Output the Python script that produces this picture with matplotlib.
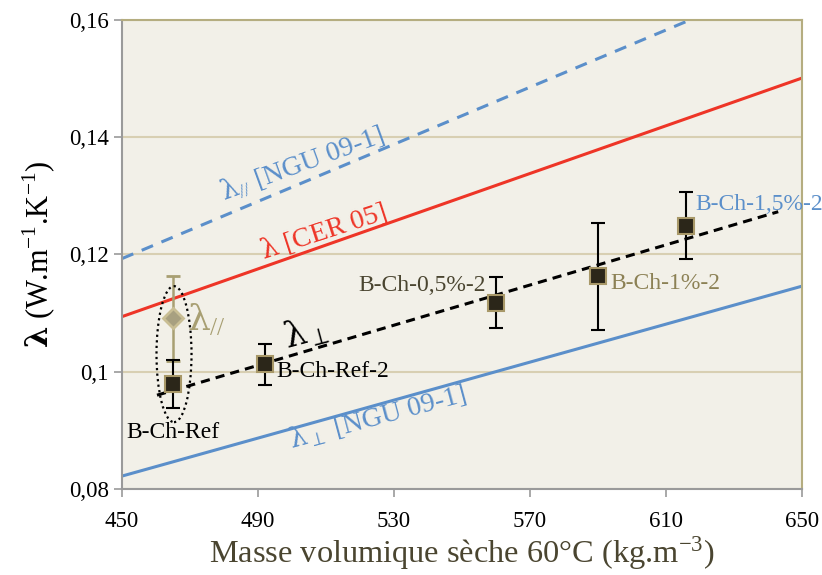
import numpy as np
import matplotlib
matplotlib.use("Agg")
from matplotlib import pyplot as plt
from matplotlib.patches import Ellipse

plt.rcParams['font.family'] = ['Liberation Serif', 'DejaVu Serif']
plt.rcParams['mathtext.fontset'] = 'custom'
plt.rcParams['mathtext.rm'] = 'Liberation Serif'
plt.rcParams['mathtext.it'] = 'DejaVu Serif'
plt.rcParams['mathtext.bf'] = 'DejaVu Serif:bold'

# samples measured (density, conductivity, error)
names = ['B-Ch-Ref', 'B-Ch-Ref-2', 'B-Ch-0,5%-2', 'B-Ch-1%-2', 'B-Ch-1,5%-2']
density = [465, 492, 560, 590, 616]
lam_perp = [0.0979, 0.1013, 0.1118, 0.1163, 0.1249]
lam_err = [0.0041, 0.0035, 0.0044, 0.0091, 0.0057]

# parallel measure on the reference
par_density = [465]
par_lam = [0.1091]
par_err = [0.0072]

# literature models (x range, y at ends)
ngu_par_x = [450, 617]
ngu_par_y = [0.1193, 0.160]
cer_x = [450, 650]
cer_y = [0.1094, 0.1501]
ngu_perp_x = [450, 650]
ngu_perp_y = [0.0822, 0.1146]

# linear trend of measures
trend_x = [460.3, 643]
trend_y = [0.0960, 0.1273]

fig = plt.figure(figsize=(8.22, 5.75), dpi=100)
ax = fig.add_axes([0.1484, 0.1496, 0.8273, 0.8156])
ax.set_facecolor('#F2F0E8')

ax.set_xlim(450, 650)
ax.set_ylim(0.08, 0.16)
ax.set_xticks([450, 490, 530, 570, 610, 650])
ax.set_yticks([0.08, 0.10, 0.12, 0.14, 0.16])
ax.set_yticklabels(['0,08', '0,1', '0,12', '0,14', '0,16'])
ax.tick_params(axis='both', labelsize=16.5, colors='#999999', labelcolor='black',
               direction='out', length=6, width=1.2)
ax.tick_params(axis='x', pad=10)
ax.grid(axis='y', color='#D8CFB2', linewidth=1.5)
ax.set_axisbelow(True)
for s in ['left', 'bottom']:
    ax.spines[s].set_color('#9A9A9A')
    ax.spines[s].set_linewidth(1.5)
for s in ['top', 'right']:
    ax.spines[s].set_color('#B5AD80')
    ax.spines[s].set_linewidth(1.5)

ax.plot(ngu_par_x, ngu_par_y, '--', color='#5B8FCA', lw=2.2, dashes=(4, 3))
ax.plot(cer_x, cer_y, '-', color='#EE3527', lw=2.2)
ax.plot(ngu_perp_x, ngu_perp_y, '-', color='#5B8FCA', lw=2.2)
ax.plot(trend_x, trend_y, '--', color='black', lw=2.2, dashes=(3, 2))

ax.errorbar(par_density, par_lam, yerr=par_err, fmt='D', color='#A89F72',
            ecolor='#A89F72', elinewidth=1.8, capsize=5, capthick=1.8,
            markersize=10, markerfacecolor='#A8A080', markeredgecolor='#C9BE94',
            markeredgewidth=2, zorder=4)
ax.errorbar(density, lam_perp, yerr=lam_err, fmt='s', color='black',
            ecolor='black', elinewidth=1.5, capsize=5, capthick=1.5,
            markersize=11, markerfacecolor='#2B2619', markeredgecolor='#A89868',
            markeredgewidth=1.5, zorder=5)

ax.add_patch(Ellipse((465.3, 0.1030), 10.3, 0.0232, fill=False,
                     linestyle=(0, (1, 1.5)), lw=1.6, color='black', zorder=6))

# labels of the points
ax.text(465, 0.0897, names[0], fontsize=17, ha='center', va='center', color='black')
ax.text(495.5, 0.1000, names[1], fontsize=17, ha='left', va='center', color='black')
ax.text(557, 0.1147, names[2], fontsize=17, ha='right', va='center', color='#4A4530')
ax.text(593.5, 0.1150, names[3], fontsize=17, ha='left', va='center', color='#8C8155')
ax.text(618.5, 0.1285, names[4], fontsize=17, ha='left', va='center', color='#5B8FCA')

ax.text(469, 0.1088, r'$\lambda_{//}$', fontsize=26, ha='left', va='center',
        color='#A89F72')
ax.text(504, 0.1066, r'$\lambda_{\perp}$', fontsize=25, ha='center', va='center',
        color='black', rotation=15)
ax.text(503, 0.1355, r'$\lambda_{//}$ [NGU 09-1]', fontsize=20, ha='center',
        va='center', color='#5B8FCA', rotation=20)
ax.text(509, 0.1240, r'$\lambda$ [CER 05]', fontsize=20, ha='center',
        va='center', color='#EE3527', rotation=18)
ax.text(525, 0.0922, r'$\lambda_{\perp}$ [NGU 09-1]', fontsize=20, ha='center',
        va='center', color='#5B8FCA', rotation=15)

ax.set_xlabel('Masse volumique sèche 60°C (kg.m$^{-3}$)', fontsize=23.3,
              color='#4A4530', labelpad=2)
ax.set_ylabel(r'$\mathbf{\lambda}$ (W.m$^{-1}$.K$^{-1}$)', fontsize=22,
              color='black', labelpad=8)

fig.savefig('out.png', dpi=100, facecolor='white')
